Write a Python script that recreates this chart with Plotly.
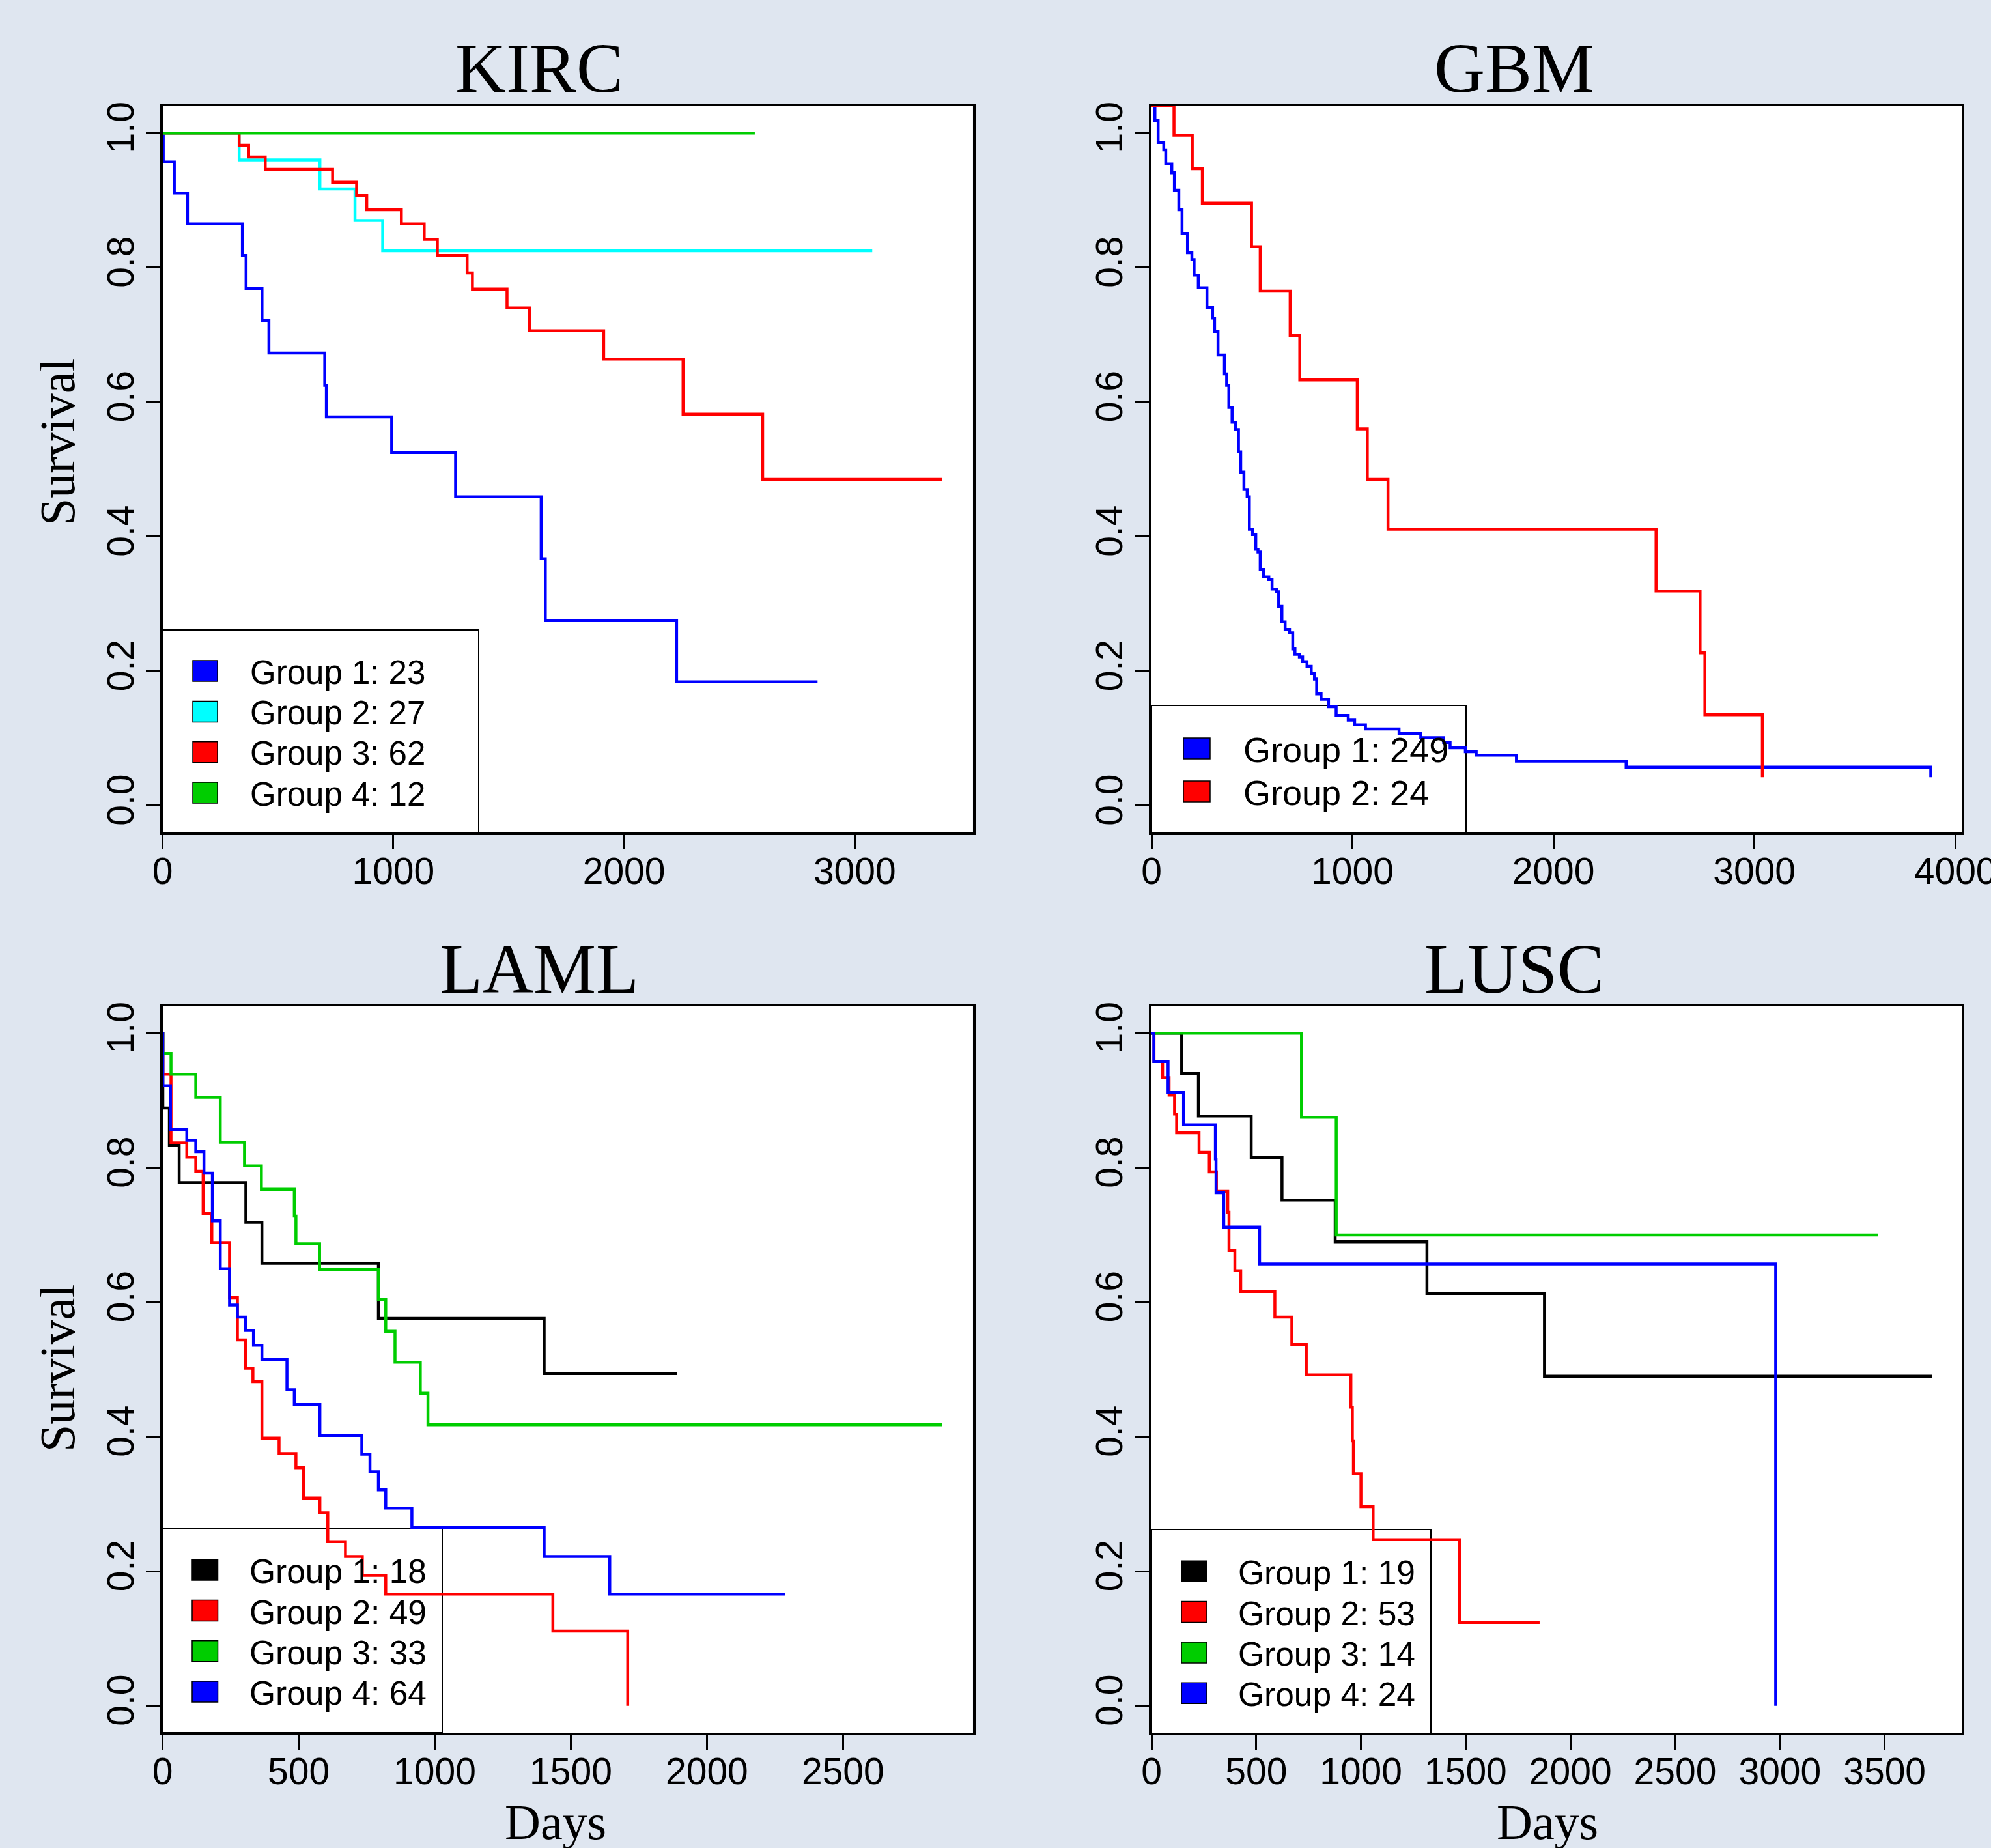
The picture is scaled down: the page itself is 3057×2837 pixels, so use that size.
import plotly.graph_objects as go

# ======================= DATA =======================
PANEL_TITLES = ["KIRC", "GBM", "LAML", "LUSC"]

# x-axis ticks (days) per panel
KIRC_XTICKS = [0, 1000, 2000, 3000]
GBM_XTICKS = [0, 1000, 2000, 3000, 4000]
LAML_XTICKS = [0, 500, 1000, 1500, 2000, 2500]
LUSC_XTICKS = [0, 500, 1000, 1500, 2000, 2500, 3000, 3500]
Y_TICKS = [0.0, 0.2, 0.4, 0.6, 0.8, 1.0]

# ---- KIRC ----
KIRC_N = [23, 27, 62, 12]
KIRC_G1_T = [3, 51, 108, 346, 362, 431, 461, 703, 710, 993, 1270, 1641, 1659, 2228]
KIRC_G1_S = [0.957, 0.911, 0.865, 0.818, 0.769, 0.721, 0.673, 0.625, 0.578, 0.525, 0.459, 0.367, 0.275, 0.184]
KIRC_G1_END = 2839
KIRC_G2_T = [332, 682, 834, 954]
KIRC_G2_S = [0.960, 0.917, 0.870, 0.825]
KIRC_G2_END = 3076
KIRC_G3_T = [332, 373, 445, 737, 841, 885, 1035, 1134, 1191, 1320, 1343, 1493, 1590, 1912, 2256, 2601]
KIRC_G3_S = [0.982, 0.9645, 0.946, 0.927, 0.907, 0.886, 0.865, 0.842, 0.818, 0.792, 0.768, 0.740, 0.706, 0.664, 0.582, 0.485]
KIRC_G3_END = 3378
KIRC_G4_T = []
KIRC_G4_S = []
KIRC_G4_END = 2567

# ---- GBM ----
GBM_N = [249, 24]
GBM_G1_T = [17, 33, 61, 71, 101, 114, 136, 152, 179, 201, 212, 233, 276, 304, 314, 331, 363, 374, 385,
            401, 419, 433, 444, 460, 476, 487, 503, 519, 530, 541, 557, 584, 600, 622, 633, 649, 665,
            687, 703, 714, 736, 752, 774, 795, 811, 822, 844, 881, 919, 979, 1011, 1065, 1232, 1340,
            1454, 1486, 1562, 1616, 1816, 2362, 3878]
GBM_G1_S = [1.019, 0.986, 0.975, 0.954, 0.941, 0.915, 0.886, 0.851, 0.822, 0.812, 0.789, 0.770, 0.741,
            0.725, 0.705, 0.670, 0.642, 0.625, 0.592, 0.570, 0.559, 0.526, 0.496, 0.470, 0.459, 0.411,
            0.403, 0.381, 0.377, 0.351, 0.340, 0.336, 0.322, 0.318, 0.296, 0.273, 0.262, 0.257, 0.233,
            0.225, 0.221, 0.214, 0.207, 0.196, 0.188, 0.166, 0.158, 0.147, 0.134, 0.127, 0.120, 0.114,
            0.107, 0.101, 0.094, 0.086, 0.080, 0.075, 0.066, 0.057, 0.042]
GBM_G1_START = 1.041
GBM_G1_END = None
GBM_G2_T = [112, 203, 253, 498, 541, 690, 738, 1024, 1074, 1177, 2511, 2730, 2754, 3040]
GBM_G2_S = [0.997, 0.947, 0.896, 0.831, 0.765, 0.699, 0.633, 0.560, 0.485, 0.411, 0.319, 0.227, 0.135, 0.042]
GBM_G2_START = 1.041
GBM_G2_END = None

# ---- LAML ----
LAML_N = [18, 49, 33, 64]
LAML_G1_T = [1, 25, 61, 306, 365, 793, 1402]
LAML_G1_S = [0.889, 0.833, 0.778, 0.719, 0.658, 0.576, 0.494]
LAML_G1_END = 1889
LAML_G2_T = [1, 31, 89, 122, 149, 181, 246, 275, 305, 332, 365, 428, 490, 518, 578, 607, 672, 734, 820, 1434, 1709]
LAML_G2_S = [0.939, 0.837, 0.816, 0.795, 0.732, 0.689, 0.607, 0.544, 0.502, 0.482, 0.398, 0.375, 0.354,
             0.309, 0.287, 0.244, 0.222, 0.194, 0.166, 0.111, 0.0]
LAML_G2_END = None
LAML_G3_T = [1, 31, 122, 212, 301, 363, 484, 490, 577, 793, 820, 854, 947, 975]
LAML_G3_S = [0.970, 0.939, 0.905, 0.838, 0.803, 0.768, 0.728, 0.687, 0.649, 0.604, 0.557, 0.511, 0.465, 0.418]
LAML_G3_END = 2863
LAML_G4_T = [1, 29, 89, 122, 152, 183, 212, 246, 275, 305, 334, 365, 457, 484, 578, 732, 762, 793, 820, 916, 1402, 1643]
LAML_G4_S = [0.922, 0.857, 0.841, 0.824, 0.792, 0.721, 0.650, 0.596, 0.578, 0.558, 0.536, 0.515, 0.470,
             0.448, 0.402, 0.374, 0.348, 0.321, 0.294, 0.265, 0.222, 0.166]
LAML_G4_END = 2287

# ---- LUSC ----
LUSC_N = [19, 53, 14, 24]
LUSC_G1_T = [144, 224, 476, 623, 877, 1315, 1876]
LUSC_G1_S = [0.940, 0.877, 0.815, 0.752, 0.690, 0.613, 0.490]
LUSC_G1_END = 3726
LUSC_G2_T = [12, 53, 84, 110, 120, 227, 276, 310, 364, 370, 398, 426, 589, 670, 739, 952, 959, 964, 1000, 1058, 1470]
LUSC_G2_S = [0.958, 0.934, 0.908, 0.880, 0.852, 0.823, 0.794, 0.765, 0.734, 0.677, 0.647, 0.616, 0.578,
             0.537, 0.492, 0.444, 0.394, 0.345, 0.296, 0.247, 0.124]
LUSC_G2_END = 1853
LUSC_G3_T = [716, 882]
LUSC_G3_S = [0.875, 0.700]
LUSC_G3_END = 3467
LUSC_G4_T = [11, 79, 153, 305, 308, 345, 516, 2980]
LUSC_G4_S = [0.958, 0.912, 0.864, 0.813, 0.763, 0.712, 0.657, 0.0]
LUSC_G4_END = None

# ======================= STYLE / LAYOUT =======================
W, H = 3057, 2837
BG = "#dfe6f0"
SANS = "Liberation Sans, Arial, Helvetica, sans-serif"
SERIF = "Liberation Serif, Times New Roman, serif"
BLUE, CYAN, RED, GREEN, BLACK = "#0000ff", "#00ffff", "#ff0000", "#00cd00", "#000000"
LINE_W = 4.5


def px(x):
    return x / W


def py(y):
    return 1 - y / H


def km_xy(times, surv, end, start=1.0):
    x = [0] + list(times)
    y = [start] + list(surv)
    if end is not None:
        x.append(end)
        y.append(y[-1])
    return x, y


panels = [
    dict(title="KIRC", box=(249.6, 163, 1493.7, 1278), xmax=3512, xticks=KIRC_XTICKS,
         title_x=828, ylabel_y=678, xlabel=False,
         series=[(KIRC_G1_T, KIRC_G1_S, KIRC_G1_END, 1.0, BLUE),
                 (KIRC_G2_T, KIRC_G2_S, KIRC_G2_END, 1.0, CYAN),
                 (KIRC_G3_T, KIRC_G3_S, KIRC_G3_END, 1.0, RED),
                 (KIRC_G4_T, KIRC_G4_S, KIRC_G4_END, 1.0, GREEN)],
         n=KIRC_N,
         legend=dict(box=(250, 967, 735, 1278), sq=(296, 334), rows=[1030, 1092.4, 1154.8, 1217.1],
                     text_x=382, size=51)),
    dict(title="GBM", box=(1768, 163, 3012, 1278), xmax=4032, xticks=GBM_XTICKS,
         title_x=2325, ylabel_y=None, xlabel=False,
         series=[(GBM_G1_T, GBM_G1_S, GBM_G1_END, GBM_G1_START, BLUE),
                 (GBM_G2_T, GBM_G2_S, GBM_G2_END, GBM_G2_START, RED)],
         n=GBM_N,
         legend=dict(box=(1768, 1083, 2251, 1278), sq=(1817, 1858), rows=[1149, 1215],
                     text_x=1907, size=54)),
    dict(title="LAML", box=(249.6, 1545, 1493.7, 2660), xmax=2977, xticks=LAML_XTICKS,
         title_x=828, ylabel_y=2100, xlabel=True, xlabel_x=853,
         series=[(LAML_G1_T, LAML_G1_S, LAML_G1_END, 1.0, BLACK),
                 (LAML_G2_T, LAML_G2_S, LAML_G2_END, 1.0, RED),
                 (LAML_G3_T, LAML_G3_S, LAML_G3_END, 1.0, GREEN),
                 (LAML_G4_T, LAML_G4_S, LAML_G4_END, 1.0, BLUE)],
         n=LAML_N,
         legend=dict(box=(250, 2347, 679, 2660), sq=(295, 334.5), rows=[2410, 2472.5, 2534.8, 2597],
                     text_x=381, size=51.5)),
    dict(title="LUSC", box=(1768, 1545, 3012, 2660), xmax=3868, xticks=LUSC_XTICKS,
         title_x=2325, ylabel_y=None, xlabel=True, xlabel_x=2376,
         series=[(LUSC_G1_T, LUSC_G1_S, LUSC_G1_END, 1.0, BLACK),
                 (LUSC_G2_T, LUSC_G2_S, LUSC_G2_END, 1.0, RED),
                 (LUSC_G3_T, LUSC_G3_S, LUSC_G3_END, 1.0, GREEN),
                 (LUSC_G4_T, LUSC_G4_S, LUSC_G4_END, 1.0, BLUE)],
         n=LUSC_N,
         legend=dict(box=(1768, 2348, 2197, 2661), sq=(1814, 1853), rows=[2412.3, 2474.6, 2537, 2599.3],
                     text_x=1899, size=51.5)),
]

fig = go.Figure()
shapes, annotations = [], []
layout = dict(width=W, height=H, autosize=False, margin=dict(l=0, r=0, t=0, b=0, pad=0, autoexpand=False),
              paper_bgcolor=BG, plot_bgcolor="white", showlegend=False)

for i, p in enumerate(panels):
    k = "" if i == 0 else str(i + 1)
    xa, ya = "x" + k, "y" + k
    x0, y0, x1, y1 = p["box"]
    axis_common = dict(showline=True, mirror=True, linecolor="black", linewidth=3.5,
                       ticks="outside", ticklen=22, tickwidth=2.5, tickcolor="black",
                       showgrid=False, zeroline=False, automargin=False,
                       ticklabeloverflow="allow",
                       tickfont=dict(family=SANS, size=57, color="black"))
    layout["xaxis" + k] = dict(axis_common, domain=[px(x0), px(x1)], range=[0, p["xmax"]],
                               tickvals=p["xticks"], ticktext=[str(v) for v in p["xticks"]],
                               ticklabelstandoff=-15, anchor=ya)
    layout["yaxis" + k] = dict(axis_common, domain=[py(y1), py(y0)], range=[-0.04, 1.04],
                               tickvals=Y_TICKS, ticktext=[f"{v:.1f}" for v in Y_TICKS],
                               ticklabelstandoff=-4, tickangle=-90, anchor=xa)

    colors = []
    for (t, s, end, start, col) in p["series"]:
        xs, ys = km_xy(t, s, end, start)
        fig.add_trace(go.Scatter(x=xs, y=ys, mode="lines", line=dict(color=col, width=LINE_W, shape="hv"),
                                 xaxis=xa, yaxis=ya, hoverinfo="skip"))
        colors.append(col)

    # title
    annotations.append(dict(text=p["title"], x=px(p["title_x"]), y=py(y0 - 58), xref="paper", yref="paper",
                            xanchor="center", yanchor="middle", showarrow=False,
                            font=dict(family=SERIF, size=108, color="black")))
    if p["ylabel_y"] is not None:
        annotations.append(dict(text="Survival", x=px(88), y=py(p["ylabel_y"]), xref="paper", yref="paper",
                                xanchor="center", yanchor="middle", textangle=-90, showarrow=False,
                                font=dict(family=SERIF, size=76, color="black")))
    if p["xlabel"]:
        annotations.append(dict(text="Days", x=px(p["xlabel_x"]), y=py(2797), xref="paper", yref="paper",
                                xanchor="center", yanchor="middle", showarrow=False,
                                font=dict(family=SERIF, size=76, color="black")))

    # legend
    lg = p["legend"]
    bx0, by0, bx1, by1 = lg["box"]
    shapes.append(dict(type="rect", xref="paper", yref="paper", x0=px(bx0), x1=px(bx1),
                       y0=py(by1), y1=py(by0), line=dict(color="black", width=2),
                       fillcolor="rgba(0,0,0,0)", layer="below"))
    for j, (row, col, n) in enumerate(zip(lg["rows"], colors, p["n"])):
        shapes.append(dict(type="rect", xref="paper", yref="paper", x0=px(lg["sq"][0]), x1=px(lg["sq"][1]),
                           y0=py(row + 16), y1=py(row - 16), line=dict(color="black", width=1.5),
                           fillcolor=col, layer="below"))
        annotations.append(dict(text=f"Group {j + 1}: {n}", x=px(lg["text_x"]), y=py(row + 2),
                                xref="paper", yref="paper", xanchor="left", yanchor="middle",
                                showarrow=False, font=dict(family=SANS, size=lg["size"], color="black")))

layout["shapes"] = shapes
layout["annotations"] = annotations
fig.update_layout(**layout)
fig.write_html("out.html", config={"displayModeBar": False},
               post_script="document.body.style.margin='0';document.body.style.padding='0';"
                           "document.documentElement.style.overflow='hidden';")
